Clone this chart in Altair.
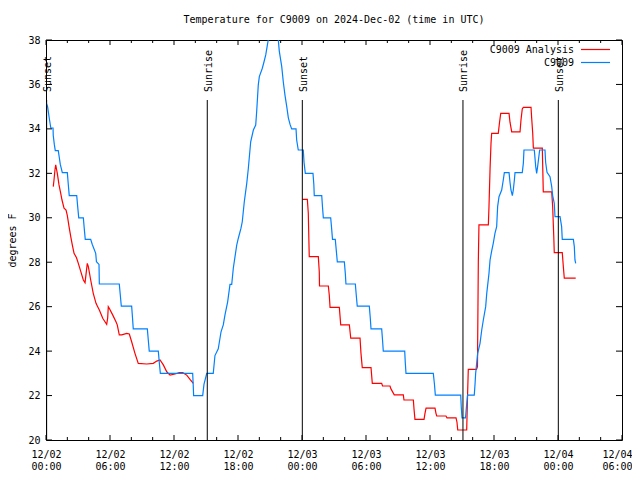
import altair as alt
import pandas as pd

FONT = "DejaVu Sans Mono"

# hours since 2024-12-02 00:00 UTC, temperatures in deg F
RED1_HOURS = [0.68,0.75,0.84,0.91,1.0,1.06,1.22,1.38,1.5,1.69,1.88,2.0,2.16,2.32,2.47,2.63,2.86,3.03,3.25,3.5,3.66,3.87,3.97,4.19,4.43,4.69,4.81,5.0,5.32,5.53,5.69,5.78,5.84,5.93,6.25,6.56,6.68,6.87,7.10,7.57,7.81,8.03,8.34,8.65,9.44,10.06,10.38,10.69,11.0,11.32,11.63,12.09,12.5,12.82,13.19,13.5,13.81]
RED1_TEMPS = [31.4,31.7,32.15,32.38,32.15,32.0,31.48,31.1,30.8,30.43,30.35,30.1,29.6,29.15,28.77,28.4,28.2,27.95,27.6,27.2,27.08,27.95,27.8,27.2,26.6,26.15,26.03,25.85,25.48,25.32,25.2,25.48,26.0,25.93,25.63,25.32,25.18,24.73,24.73,24.8,24.77,24.42,23.9,23.45,23.42,23.45,23.55,23.6,23.38,23.07,22.92,22.97,23.03,23.03,22.92,22.73,22.55]

RED2_HOURS = [24.05,24.5,24.59,24.68,25.53,25.62,25.64,26.47,26.56,26.63,27.5,27.63,28.44,28.57,29.44,29.53,29.65,30.47,30.59,31.47,31.55,32.25,32.34,32.65,33.5,33.56,34.44,34.5,34.59,35.44,35.53,35.63,36.47,36.56,36.63,37.5,37.59,38.44,38.53,38.6,39.44,39.52,39.59,40.36,40.45,40.53,40.59,41.47,41.53,41.63,41.72,41.78,42.4,42.52,42.63,43.41,43.5,43.66,44.44,44.53,44.65,44.75,45.47,45.53,45.63,45.69,46.53,46.62,47.41,47.5,47.6,47.65,48.4,48.5,48.59,49.66]
RED2_TEMPS = [30.83,30.83,30.2,28.25,28.25,27.57,26.93,26.93,26.5,25.97,25.97,25.18,25.18,24.58,24.58,23.9,23.26,23.26,22.55,22.55,22.43,22.43,22.3,22.03,22.03,21.8,21.8,21.4,20.93,20.93,21.2,21.43,21.43,21.2,21.08,21.08,21.0,21.0,20.8,20.45,20.45,22.0,23.18,23.18,23.3,28.02,29.68,29.68,30.5,32.2,33.35,33.8,33.8,34.3,34.7,34.7,34.3,33.87,33.87,34.4,34.9,34.97,34.97,34.5,33.8,33.13,33.13,31.17,31.17,30.5,29.2,28.43,28.43,27.8,27.28,27.28]

BLUE_HOURS = [0.0,0.15,0.3,0.45,0.66,0.68,0.78,0.87,1.15,1.25,
              1.34,1.53,2.0,2.09,2.18,2.88,2.97,3.07,3.5,3.59,
              3.68,4.19,4.34,4.66,4.73,4.97,5.0,6.87,6.97,7.06,
              8.03,8.11,8.18,9.5,9.59,9.68,10.53,10.62,10.72,13.75,
              13.8,13.84,14.69,14.81,15.07,15.68,15.84,16.15,16.41,16.62,
              16.78,17.03,17.25,17.41,17.56,17.72,17.88,18.03,18.28,18.4,
              18.59,18.82,18.97,19.19,19.44,19.66,19.75,19.9,20.0,20.28,
              20.44,20.6,20.78,20.91,21.28,21.66,21.78,21.87,22.1,22.25,
              22.41,22.57,22.72,22.88,23.03,23.44,23.5,23.65,24.12,24.19,
              24.31,25.03,25.11,25.15,25.85,25.92,26.0,26.69,26.78,26.86,
              27.12,27.22,27.31,27.97,28.06,28.12,29.0,29.09,29.18,30.31,
              30.4,30.47,31.47,31.55,31.62,33.63,33.68,33.75,36.31,36.42,
              36.5,38.88,38.93,39.0,39.33,39.42,39.52,40.15,40.22,40.28,
              40.47,40.69,40.85,41.0,41.22,41.32,41.53,41.63,41.78,41.93,
              42.09,42.25,42.34,42.47,42.72,42.87,42.97,43.41,43.5,43.59,
              43.72,43.81,43.91,43.97,44.65,44.75,44.81,45.78,45.91,46.0,
              46.09,46.28,46.78,46.84,46.97,47.25,47.41,47.5,47.65,47.72,
              48.19,48.34,48.4,49.44,49.53,49.59,49.66]
BLUE_TEMPS = [35.2,35.0,34.5,34.04,34.04,33.7,33.3,33.02,33.02,32.7,
              32.4,32.03,32.03,31.5,31.0,31.0,30.5,30.0,30.0,29.5,
              29.03,29.03,28.8,28.4,28.02,27.9,27.02,27.02,26.5,26.02,
              26.02,25.5,25.0,25.0,24.5,24.0,24.0,23.5,23.0,23.0,
              22.5,22.0,22.0,22.5,23.0,23.0,23.8,24.1,24.87,25.18,
              25.63,26.22,27.0,27.0,27.73,28.25,28.77,29.08,29.53,29.82,
              30.72,31.55,32.23,33.42,33.95,34.17,34.77,35.97,36.35,36.73,
              37.02,37.33,37.85,38.2,38.5,38.2,38.0,37.5,36.8,36.1,
              35.5,35.0,34.5,34.2,34.0,34.0,33.5,33.05,33.05,32.5,
              32.0,32.0,31.5,31.0,31.0,30.5,30.0,30.0,29.5,29.03,
              29.03,28.5,28.02,28.02,27.5,27.02,27.02,26.5,26.02,26.02,
              25.5,25.0,25.0,24.5,24.0,24.0,23.5,23.0,23.0,22.5,
              22.02,22.02,21.5,21.0,21.0,21.5,22.02,22.02,22.5,23.0,
              23.9,24.35,24.95,25.4,26.0,26.6,27.5,28.1,28.5,28.85,
              29.3,29.6,30.5,30.95,31.25,31.7,32.03,32.03,31.6,31.25,
              31.0,31.25,31.7,32.03,32.03,32.45,33.05,33.05,32.3,32.0,
              32.3,33.05,33.05,32.5,32.05,31.85,31.4,31.0,30.65,30.05,
              30.05,29.6,29.03,29.03,28.7,28.1,27.95]

EVENT_HOURS = [0.06, 15.12, 24.03, 39.09, 48.03]
EVENT_LABELS = ["Sunset", "Sunrise", "Sunset", "Sunrise", "Sunset"]

SERIES_NAMES = ["C9009 Analysis", "C9009"]
SERIES_COLORS = ["#ff0000", "#0080ff"]

X_MAJOR = list(range(0, 55, 6))
X_MINOR = [h for h in range(0, 55, 2) if h % 6]
Y_TICKS = list(range(20, 39, 2))

assert len(RED1_HOURS) == len(RED1_TEMPS)
assert len(RED2_HOURS) == len(RED2_TEMPS)
assert len(BLUE_HOURS) == len(BLUE_TEMPS)

W, H = 576, 400

def frame(hours, temps, seg):
    return pd.DataFrame({"hour": hours, "temp": temps, "seg": seg,
                         "idx": list(range(len(hours)))})

red_df = pd.concat([frame(RED1_HOURS, RED1_TEMPS, "a"), frame(RED2_HOURS, RED2_TEMPS, "b")])
blue_df = frame(BLUE_HOURS, BLUE_TEMPS, "c")

xs = alt.Scale(domain=[0, 54], nice=False, zero=False)
ys = alt.Scale(domain=[20, 38], nice=False, zero=False)

label_expr = ("['12/0' + (2 + floor(datum.value / 24)), "
              "(datum.value % 24 < 10 ? '0' : '') + (datum.value % 24) + ':00']")

x_axis = alt.Axis(values=X_MAJOR, labelExpr=label_expr, ticks=False, tickSize=0, domain=False,
                  grid=False, labelPadding=9, labelLineHeight=12, title=None,
                  labelFlush=False, labelOverlap=False, labelBound=False,
                  labelOffset=alt.ExprRef("datum.value == 54 ? -5 : 0"))
y_axis = alt.Axis(values=Y_TICKS, ticks=False, tickSize=0, domain=False, grid=False,
                  labelPadding=6, title="degrees F", titleX=-34, titleY=200, titleAngle=270,
                  titleAlign="center", titleBaseline="middle", titleFontWeight="normal")

red = alt.Chart(red_df).mark_line(color=SERIES_COLORS[0], strokeWidth=1.2, clip=True).encode(
    x=alt.X("hour:Q", scale=xs, axis=x_axis),
    y=alt.Y("temp:Q", scale=ys, axis=y_axis),
    detail="seg:N",
    order="idx:Q",
)
blue = alt.Chart(blue_df).mark_line(color=SERIES_COLORS[1], strokeWidth=1.2, clip=True).encode(
    x=alt.X("hour:Q", scale=xs),
    y=alt.Y("temp:Q", scale=ys),
    order="idx:Q",
)

ev_df = pd.DataFrame({"hour": EVENT_HOURS, "label": EVENT_LABELS})
ev_rules = alt.Chart(ev_df).mark_rule(color="black", strokeWidth=1).encode(
    x=alt.X("hour:Q", scale=xs), y=alt.value(60), y2=alt.value(H))
ev_text = alt.Chart(ev_df).mark_text(angle=270, align="left", baseline="middle", dy=1.5,
                                     font=FONT, fontSize=10, color="black").encode(
    x=alt.X("hour:Q", scale=xs), y=alt.value(52), text="label:N")

xmaj = pd.DataFrame({"hour": X_MAJOR})
xmin = pd.DataFrame({"hour": X_MINOR})
yt = pd.DataFrame({"temp": Y_TICKS})
tick_layers = [
    alt.Chart(xmaj).mark_rule(color="black").encode(x=alt.X("hour:Q", scale=xs), y=alt.value(H), y2=alt.value(H - 5)),
    alt.Chart(xmaj).mark_rule(color="black").encode(x=alt.X("hour:Q", scale=xs), y=alt.value(0), y2=alt.value(5)),
    alt.Chart(xmin).mark_rule(color="black").encode(x=alt.X("hour:Q", scale=xs), y=alt.value(H), y2=alt.value(H - 3)),
    alt.Chart(xmin).mark_rule(color="black").encode(x=alt.X("hour:Q", scale=xs), y=alt.value(0), y2=alt.value(3)),
    alt.Chart(yt).mark_rule(color="black").encode(y=alt.Y("temp:Q", scale=ys), x=alt.value(0), x2=alt.value(6)),
    alt.Chart(yt).mark_rule(color="black").encode(y=alt.Y("temp:Q", scale=ys), x=alt.value(W), x2=alt.value(W - 6)),
]

leg_layers = []
for i, (name, col) in enumerate(zip(SERIES_NAMES, SERIES_COLORS)):
    ldf = pd.DataFrame({"name": [name]})
    yy = 10 + 13 * i
    leg_layers.append(alt.Chart(ldf).mark_text(align="right", baseline="middle", font=FONT,
                                               fontSize=10, color="black").encode(
        x=alt.value(528), y=alt.value(yy), text="name:N"))
    leg_layers.append(alt.Chart(ldf).mark_rule(color=col, strokeWidth=1.2).encode(
        x=alt.value(535), x2=alt.value(564), y=alt.value(yy - 0.5)))

chart = alt.layer(red, blue, ev_rules, ev_text, *tick_layers, *leg_layers).properties(
    width=W, height=H,
    title=alt.TitleParams("Temperature for C9009 on 2024-Dec-02 (time in UTC)", anchor="middle",
                          offset=10, font=FONT, fontSize=10, fontWeight="normal", color="black"),
    autosize=alt.AutoSizeParams(type="none"),
    padding={"left": 38, "top": 32, "right": 10, "bottom": 32},
).configure_view(stroke="black", strokeWidth=1).configure_axis(
    labelFont=FONT, titleFont=FONT, labelFontSize=10, titleFontSize=10,
    labelColor="black", titleColor="black")

chart.save("out.html", embed_options={"renderer": "svg", "actions": False})
